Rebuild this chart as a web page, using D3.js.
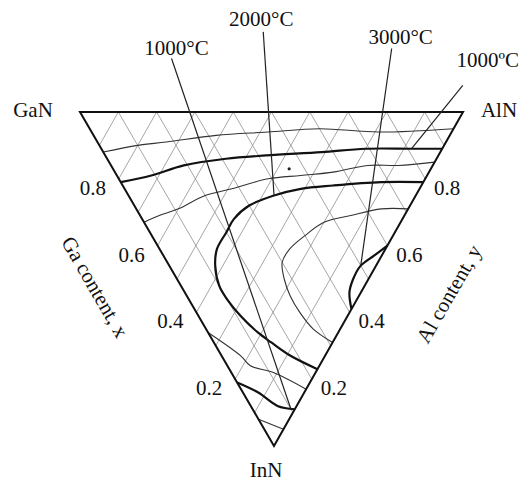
<!DOCTYPE html>
<html>
<head>
<meta charset="utf-8">
<script src="https://cdn.jsdelivr.net/npm/d3@7"></script>
<style>
  body { margin: 0; background: #fff; }
  text { font-family: "Liberation Serif", "Times New Roman", serif; font-size: 21px; fill: #111; }
</style>
</head>
<body>
<div id="chart"></div>
<script>
// compositions are [Ga content x, Al content y], InN = 1 - x - y
const gridValues = [0.1, 0.2, 0.3, 0.4, 0.5, 0.6, 0.7, 0.8, 0.9];
const tickValues = [0.2, 0.4, 0.6, 0.8];
const vertexNames = ["GaN", "AlN", "InN"];

const topThin = [[0.88,0.00],[0.80,0.10],[0.73,0.18],[0.61,0.32],[0.48,0.46],[0.35,0.60],[0.19,0.75],[0.00,0.95]];
const topThick = [[0.79,0.00],[0.72,0.09],[0.65,0.19],[0.55,0.31],[0.45,0.42],[0.31,0.57],[0.20,0.69],[0.08,0.81],[0.00,0.89]];
const midThin = [[0.67,0.00],[0.64,0.05],[0.60,0.11],[0.55,0.20],[0.49,0.28],[0.41,0.39],[0.33,0.48],[0.25,0.57],[0.17,0.67],[0.09,0.75],[0.00,0.85]];
const loopThick = [[0.00,0.79],[0.11,0.68],[0.23,0.55],[0.31,0.46],[0.37,0.38],[0.42,0.30],[0.44,0.24],[0.44,0.20],[0.44,0.15],[0.42,0.12],[0.38,0.10],[0.34,0.10],[0.28,0.11],[0.21,0.13],[0.16,0.15],[0.09,0.18],[0.00,0.23]];
const loopThin = [[0.00,0.71],[0.07,0.64],[0.14,0.55],[0.20,0.47],[0.23,0.40],[0.25,0.34],[0.25,0.30],[0.22,0.28],[0.18,0.27],[0.13,0.27],[0.07,0.28],[0.00,0.31]];
const cap3000 = [[0.00,0.60],[0.02,0.55],[0.04,0.50],[0.04,0.46],[0.03,0.43],[0.00,0.41]];
const bottomThin = [[0.34,0.00],[0.22,0.05],[0.18,0.06],[0.11,0.11],[0.00,0.17]];
const bottomThick = [[0.19,0.00],[0.12,0.04],[0.05,0.07],[0.00,0.11]];
const tipThin = [[0.08,0.00],[0.00,0.05]];

const tempLabels = ["1000°C", "2000°C", "3000°C", "1000ºC"];
const tempTargets = [[0.01,0.10],[0.37,0.38],[0.04,0.50],[0.08,0.81]];
const tempStarts = [[0.84,0.32],[0.64,0.60],[0.28,0.91],[0.04,1.04]];
const dotPoint = [0.37, 0.46];

const width = 526, height = 483;
const svg = d3.select("#chart").append("svg")
  .attr("width", width).attr("height", height);

// triangle: GaN top-left, AlN top-right, InN bottom
const xScale = d3.scaleLinear().domain([0, 1]).range([80, 463]);
const yScale = d3.scaleLinear().domain([0, 1]).range([112, 446]);
const skew = 0.5065; // InN apex position along the top edge

function proj(d) {
  const inn = 1 - d[0] - d[1];
  return [xScale(d[1] + skew * inn), yScale(inn)];
}

const line = d3.line().x(d => proj(d)[0]).y(d => proj(d)[1]);
const smooth = d3.line().x(d => proj(d)[0]).y(d => proj(d)[1]).curve(d3.curveCatmullRom.alpha(0.5));

// grid
const grid = svg.append("g").attr("stroke", "#8f8f8f").attr("stroke-width", 0.8).attr("fill", "none");
gridValues.forEach(v => {
  grid.append("path").attr("d", line([[v, 1 - v], [v, 0]]));
  grid.append("path").attr("d", line([[1 - v, v], [0, v]]));
});

// curves
const curves = [
  [topThin, 1.1, "#333"], [topThick, 2.2, "#111"], [midThin, 1.1, "#333"],
  [loopThick, 2.2, "#111"], [loopThin, 1.1, "#333"], [cap3000, 2.2, "#111"],
  [bottomThin, 1.1, "#333"], [bottomThick, 2.2, "#111"], [tipThin, 1.1, "#333"]
];
svg.append("g").selectAll("path")
  .data(curves)
  .join("path")
  .attr("d", d => smooth(d[0]))
  .attr("fill", "none")
  .attr("stroke", d => d[2])
  .attr("stroke-width", d => d[1])
  .attr("stroke-linejoin", "round");

// outline
svg.append("path")
  .attr("d", line([[1, 0], [0, 1], [0, 0], [1, 0]]) + "Z")
  .attr("fill", "none").attr("stroke", "#111").attr("stroke-width", 2);

svg.append("circle")
  .attr("cx", proj(dotPoint)[0]).attr("cy", proj(dotPoint)[1])
  .attr("r", 1.6).attr("fill", "#222");

// temperature labels and leader lines
const labelOffsets = [[5, -4], [-2, -6], [9, -5], [25, -18]];
tempLabels.forEach((t, i) => {
  svg.append("path")
    .attr("d", line([tempStarts[i], tempTargets[i]]))
    .attr("stroke", "#222").attr("stroke-width", 1.2);
  const p = proj(tempStarts[i]);
  svg.append("text")
    .attr("x", p[0] + labelOffsets[i][0]).attr("y", p[1] + labelOffsets[i][1])
    .attr("text-anchor", "middle").text(t);
});

// tick labels
tickValues.forEach(v => {
  const l = proj([v, 0]);
  svg.append("text").attr("x", l[0] - 26).attr("y", l[1] + 16)
    .attr("text-anchor", "middle").text(v.toFixed(1));
  const r = proj([0, v]);
  svg.append("text").attr("x", r[0] + 22).attr("y", r[1] + 16)
    .attr("text-anchor", "middle").text(v.toFixed(1));
});

// vertex names
const vertexComp = [[1, 0], [0, 1], [0, 0]];
const vertexOffsets = [[-47, 5], [36, 5], [-8, 31]];
vertexNames.forEach((n, i) => {
  const p = proj(vertexComp[i]);
  svg.append("text")
    .attr("x", p[0] + vertexOffsets[i][0]).attr("y", p[1] + vertexOffsets[i][1])
    .attr("text-anchor", "middle").text(n);
});

// axis titles
svg.append("text")
  .attr("transform", "translate(95,287) rotate(60)")
  .attr("text-anchor", "middle").attr("dominant-baseline", "central")
  .text("Ga content, x");
svg.append("text")
  .attr("transform", "translate(449,294) rotate(-60)")
  .attr("text-anchor", "middle").attr("dominant-baseline", "central")
  .text("Al content, y");
</script>
</body>
</html>
